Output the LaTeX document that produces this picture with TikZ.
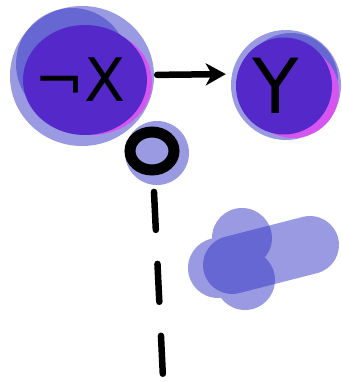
\documentclass[tikz,border=0pt]{standalone}
\usepackage{fontspec}
\setmainfont{DejaVu Sans}
\usetikzlibrary{arrows.meta,shapes.geometric}
\definecolor{haze}{HTML}{3535C5}
\definecolor{deepviolet}{HTML}{5529C9}
\definecolor{glow}{HTML}{D455F0}

\begin{document}
\begin{tikzpicture}[x=1pt,y=-1pt,
    hazeblob/.style={fill=haze,opacity=0.5},
    ink/.style={line width=6.5pt,line cap=round,black},
    core/.style={ellipse,fill=deepviolet,inner sep=0pt},
    every node/.style={font=\fontsize{60}{60}\selectfont}]
  \useasboundingbox (0,0) rectangle (341,382);
  % not X
  \fill[hazeblob] (82,76) ellipse[x radius=72pt,y radius=70pt];
  \fill[hazeblob] (72,64) circle[radius=56pt];
  \fill[glow] (91,82) ellipse[x radius=61pt,y radius=53pt];
  \node[core,minimum width=124pt,minimum height=110pt] (notx) at (85,80) {};
  \node (notxtext) at (80,80) {¬X};
  % Y
  \fill[hazeblob] (286,85) circle[radius=55pt];
  \fill[hazeblob] (291,80) circle[radius=47pt];
  \fill[glow] (293,92) circle[radius=46pt];
  \node[core,minimum width=96pt,minimum height=97pt] (y) at (284,86) {};
  \node[font=\fontsize{76}{76}\selectfont] (ytext) at (276,86) {Y};
  \draw[ink,shorten <=10pt,shorten >=10pt,-{Stealth[length=20pt,width=22pt,inset=6pt]}] ([yshift=5pt]notx.east) -- ([yshift=12pt]y.west);
  % link
  \fill[hazeblob] (157,153) circle[radius=32pt];
  \coordinate (knot) at (152,151);
  \draw[line width=11pt] (knot) ellipse[x radius=22pt,y radius=19pt];
  \coordinate (tail) at (163,378);
  \draw[ink,dash pattern=on 38pt off 34pt,shorten <=41pt] (knot) -- (tail);
  % blob
  \begin{scope}[transparency group,opacity=0.5]
    \fill[haze] (242,238) circle[radius=30pt];
    \fill[haze] (218,268) circle[radius=30pt];
    \fill[haze] (245,280) circle[radius=30pt];
  \end{scope}
  \draw[haze,opacity=0.5,line width=58pt,line cap=round] (232,265) -- (310,245);
\end{tikzpicture}
\end{document}
